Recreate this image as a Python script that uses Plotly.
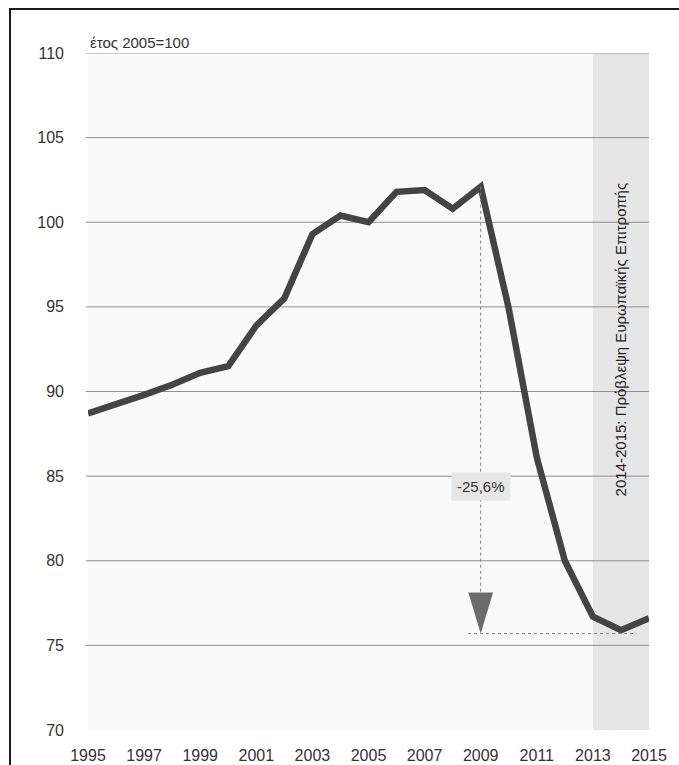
import plotly.graph_objects as go

years = list(range(1995, 2016))
index_values = [88.7, 89.2, 89.8, 90.4, 91.1, 91.5, 93.9, 95.5, 99.3, 100.4, 100.0,
                101.8, 101.9, 100.8, 102.1, 94.9, 86.1, 80.0, 76.7, 75.9, 76.6]
x_ticks = list(range(1995, 2016, 2))
y_ticks = [70, 75, 80, 85, 90, 95, 100, 105, 110]
forecast_start, forecast_end = 2013, 2015
peak_year = 2009
drop_bottom = 75.7
drop_label = "-25,6%"
base_label = "έτος 2005=100"
forecast_label = "2014-2015: Πρόβλεψη Ευρωπαϊκής Επιτροπής"

FONT = "Liberation Sans, Arial, Helvetica, sans-serif"
peak_val = index_values[years.index(peak_year)]

fig = go.Figure()
fig.add_trace(go.Scatter(x=years, y=index_values, mode="lines",
                         line=dict(color="#444444", width=6.5), hoverinfo="skip"))

shapes = []
shapes.append(dict(type="rect", xref="x", yref="paper", x0=forecast_start, x1=forecast_end,
                   y0=0, y1=1, fillcolor="#e6e6e6", line=dict(width=0), layer="below"))
for v in y_ticks[1:]:
    shapes.append(dict(type="line", xref="paper", yref="y", x0=-0.004, x1=1, y0=v, y1=v,
                       line=dict(color="#8f8f8f", width=1), layer="below"))
shapes.append(dict(type="line", xref="x", yref="y", x0=peak_year, x1=peak_year,
                   y0=peak_val, y1=drop_bottom + 1.5, line=dict(color="#808080", width=1, dash="dot")))
shapes.append(dict(type="line", xref="x", yref="y", x0=peak_year - 0.45, x1=2014.55,
                   y0=drop_bottom, y1=drop_bottom, line=dict(color="#808080", width=1, dash="dot")))
tri_h = 2.42
tri_w = 0.44
path = (f"M {peak_year - tri_w},{drop_bottom + tri_h} L {peak_year + tri_w},{drop_bottom + tri_h} "
        f"L {peak_year},{drop_bottom} Z")
shapes.append(dict(type="path", xref="x", yref="y", path=path,
                   fillcolor="#6b6b6b", line=dict(color="#6b6b6b", width=0)))
shapes.append(dict(type="rect", xref="paper", yref="paper", x0=-0.139, x1=1.08,
                   y0=-0.08, y1=1.065, line=dict(color="#1a1a1a", width=2),
                   fillcolor="rgba(0,0,0,0)"))

annotations = [
    dict(text=base_label, xref="paper", yref="y", x=0.0, y=110, xanchor="left",
         yanchor="bottom", yshift=0, showarrow=False, font=dict(size=15, color="#333333", family=FONT)),
    dict(text=drop_label, xref="x", yref="y", x=peak_year, y=84.4, showarrow=False,
         bgcolor="#e6e6e6", borderpad=5, font=dict(size=15, color="#333333", family=FONT)),
    dict(text=forecast_label, xref="x", yref="y", x=(forecast_start + forecast_end) / 2 - 0.02,
         y=93.1, textangle=-90, showarrow=False, font=dict(size=15, color="#222222", family=FONT)),
]

fig.update_layout(
    width=679, height=765,
    margin=dict(l=88, r=30, t=53, b=35),
    paper_bgcolor="white", plot_bgcolor="#fafafa",
    showlegend=False,
    shapes=shapes, annotations=annotations,
    font=dict(family=FONT, size=16, color="#333333"),
)
fig.update_xaxes(range=[1995, 2015], tickvals=x_ticks, showgrid=False, zeroline=False,
                 showline=False, ticks="", ticklabelstandoff=14, automargin=False,
                 tickfont=dict(size=16, color="#333333"))
fig.update_yaxes(range=[70, 110], tickvals=y_ticks, showgrid=False, zeroline=False,
                 showline=False, ticks="", ticklabelstandoff=23, automargin=False,
                 tickfont=dict(size=16, color="#333333"))

fig.write_html("out.html", config={"displayModeBar": False},
               post_script="document.body.style.margin='0';document.body.style.overflow='hidden';")
